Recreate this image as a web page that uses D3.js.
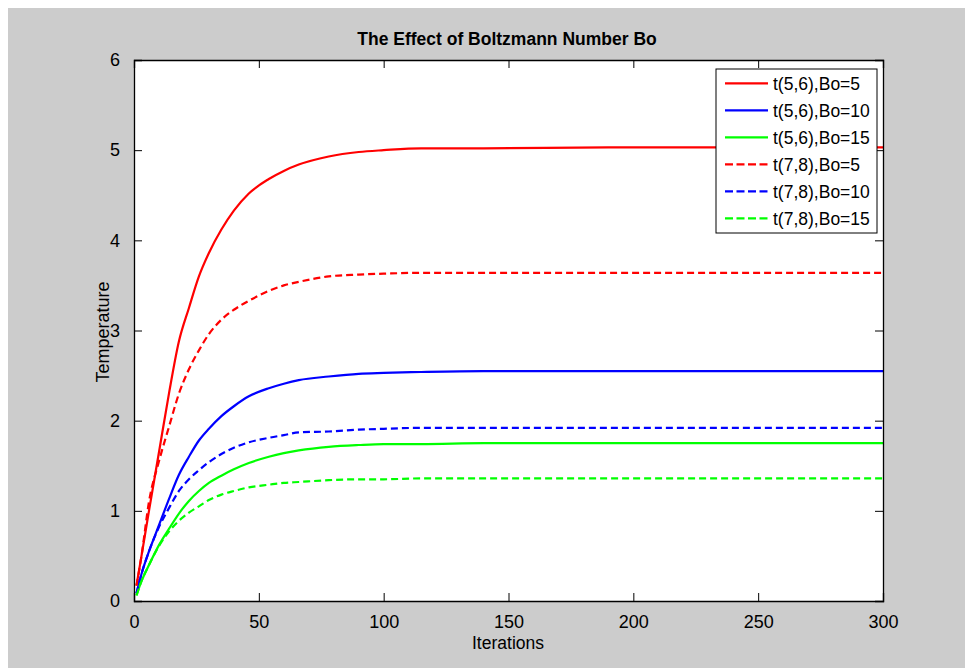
<!DOCTYPE html>
<html><head><meta charset="utf-8">
<script src="https://cdn.jsdelivr.net/npm/d3@7"></script>
<style>html,body{margin:0;padding:0;background:#fff;}svg{display:block;}</style>
</head><body>
<script>
const iterations = [1,3,6,10,14,18,22,26,30,35,40,46,54,60,66,78,90,100,115,140,190,300];
const t56_Bo5  = [0.17,0.5,1.0,1.65,2.3,2.88,3.25,3.6,3.86,4.12,4.33,4.52,4.68,4.77,4.84,4.93,4.98,5.0,5.02,5.02,5.03,5.03];
const t56_Bo10 = [0.085,0.3,0.55,0.84,1.13,1.4,1.6,1.78,1.91,2.05,2.16,2.27,2.36,2.41,2.45,2.49,2.52,2.53,2.54,2.55,2.55,2.55];
const t56_Bo15 = [0.067,0.22,0.4,0.62,0.8,0.97,1.11,1.22,1.31,1.39,1.46,1.53,1.6,1.64,1.67,1.71,1.73,1.74,1.74,1.75,1.75,1.75];
const t78_Bo5  = [0.17,0.5,1.1,1.55,1.93,2.3,2.57,2.78,2.96,3.12,3.23,3.33,3.44,3.5,3.54,3.6,3.62,3.63,3.64,3.64,3.64,3.64];
const t78_Bo10 = [0.085,0.3,0.55,0.82,1.03,1.22,1.35,1.45,1.54,1.63,1.7,1.76,1.81,1.84,1.87,1.88,1.9,1.91,1.92,1.92,1.92,1.92];
const t78_Bo15 = [0.06,0.22,0.4,0.61,0.77,0.89,0.98,1.05,1.12,1.18,1.22,1.26,1.29,1.31,1.32,1.34,1.35,1.35,1.36,1.36,1.36,1.36];
const seriesNames = ["t(5,6),Bo=5","t(5,6),Bo=10","t(5,6),Bo=15","t(7,8),Bo=5","t(7,8),Bo=10","t(7,8),Bo=15"];
const seriesValues = [t56_Bo5,t56_Bo10,t56_Bo15,t78_Bo5,t78_Bo10,t78_Bo15];
const seriesColors = ["#ff0000","#0000ff","#00ff00","#ff0000","#0000ff","#00ff00"];
const seriesDashed = [false,false,false,true,true,true];
const xTicks = [0,50,100,150,200,250,300];
const yTicks = [0,1,2,3,4,5,6];

const W=965,H=668;
const L=134,R=883,T=60,B=601;
const svg=d3.select("body").append("svg").attr("width",W).attr("height",H);
svg.append("rect").attr("x",8).attr("y",8).attr("width",W-8).attr("height",H-8).attr("fill","#cccccc");
svg.append("rect").attr("x",L).attr("y",T).attr("width",R-L).attr("height",B-T).attr("fill","#fff");

const x=d3.scaleLinear().domain([0,300]).range([L,R]);
const y=d3.scaleLinear().domain([0,6]).range([B,T]);
const font="Liberation Sans, Arial, sans-serif";

const line=d3.line().x(d=>x(d[0])).y(d=>y(d[1])).curve(d3.curveMonotoneX);
const g=svg.append("g");
seriesValues.forEach((vals,i)=>{
  g.append("path").datum(iterations.map((it,j)=>[it,vals[j]]))
   .attr("d",line).attr("fill","none").attr("stroke",seriesColors[i])
   .attr("stroke-width",2.2).attr("stroke-dasharray",seriesDashed[i]?"7,4":null);
});

// axes
const axB=d3.axisBottom(x).tickValues(xTicks).tickSize(-8).tickPadding(14).tickFormat(d3.format("d"));
const axT=d3.axisTop(x).tickValues(xTicks).tickSize(-8).tickFormat("");
const axLft=d3.axisLeft(y).tickValues(yTicks).tickSize(-8).tickPadding(14).tickFormat(d3.format("d"));
const axRt=d3.axisRight(y).tickValues(yTicks).tickSize(-8).tickFormat("");
[[axB,`translate(0,${B})`],[axT,`translate(0,${T})`],[axLft,`translate(${L},0)`],[axRt,`translate(${R},0)`]].forEach(([a,tr])=>{
  const s=svg.append("g").attr("transform",tr).call(a);
  s.select(".domain").attr("stroke","#000").attr("stroke-width",1.3);
  s.selectAll(".tick line").attr("stroke","#000").attr("stroke-width",1);
  s.selectAll("text").attr("font-family",font).attr("font-size",18).attr("fill","#000");
});

// title & labels
svg.append("text").attr("x",507).attr("y",45).attr("text-anchor","middle")
  .attr("font-family",font).attr("font-size",17.5).attr("font-weight","bold").text("The Effect of Boltzmann Number Bo");
svg.append("text").attr("x",508).attr("y",649).attr("text-anchor","middle")
  .attr("font-family",font).attr("font-size",17.5).text("Iterations");
svg.append("text").attr("transform","translate(109,332) rotate(-90)").attr("text-anchor","middle")
  .attr("font-family",font).attr("font-size",18).text("Temperature");

// legend
const lg=svg.append("g");
lg.append("rect").attr("x",716).attr("y",69).attr("width",161).attr("height",164)
  .attr("fill","#fff").attr("stroke","#000").attr("stroke-width",1);
seriesNames.forEach((n,i)=>{
  const yy=83.3+i*27;
  lg.append("line").attr("x1",725).attr("x2",768).attr("y1",yy).attr("y2",yy)
    .attr("stroke",seriesColors[i]).attr("stroke-width",2.2).attr("stroke-dasharray",seriesDashed[i]?"8,3.5":null);
  lg.append("text").attr("x",773).attr("y",yy).attr("dy","0.36em")
    .attr("font-family",font).attr("font-size",17.5).text(n);
});
</script>
</body></html>
